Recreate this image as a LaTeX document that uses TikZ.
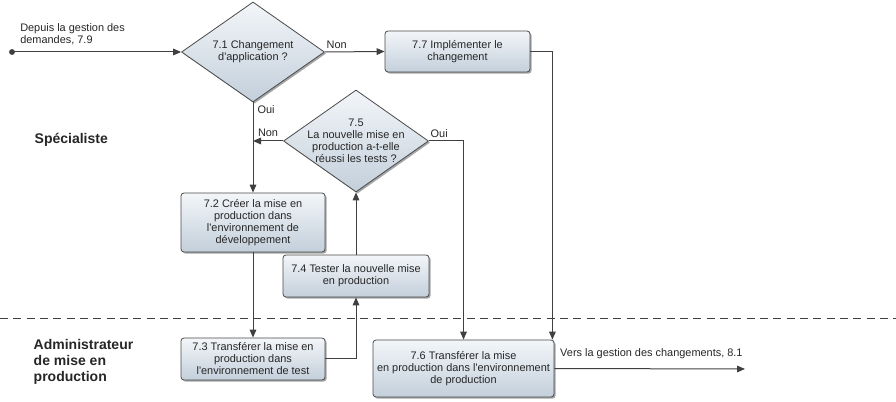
\documentclass[tikz,border=0pt]{standalone}
\usepackage{fontspec}
\setmainfont{Liberation Sans}
\usetikzlibrary{arrows.meta,shapes.geometric,shadows,calc}
\definecolor{linec}{HTML}{404040}
\definecolor{topc}{HTML}{F3F6F9}
\definecolor{botc}{HTML}{C3CFDB}
\definecolor{edgec}{HTML}{4A4A4A}
\definecolor{txtc}{HTML}{262626}
\newcommand{\apo}{\textquotesingle}
\begin{document}
\begin{tikzpicture}[x=0.75pt,y=-0.75pt,
  every node/.style={font=\fontsize{8.2}{9}\selectfont, text=txtc},
  shad/.style={drop shadow={shadow xshift=1.2pt, shadow yshift=-1.2pt, fill=black, opacity=0.35}},
  proc/.style={rectangle, rounded corners=2.25pt, draw=edgec, line width=0.6pt,
    top color=topc, bottom color=botc, align=center, inner sep=1pt, shad},
  dec/.style={diamond, draw=edgec, line width=0.6pt, top color=topc, bottom color=botc,
    inner sep=0pt, shad},
  conn/.style={draw=linec, line width=0.75pt, -{Triangle[length=6pt,width=5pt]}},
  lane/.style={font=\fontsize{10.5}{12}\selectfont\bfseries, align=left},
  ]
\useasboundingbox (0,0) rectangle (896,402);

% swimlane separator
\draw[linec, line width=0.75pt, dash pattern=on 6pt off 4pt] (0,319) -- (896,319);

% lane titles
\node[lane, anchor=west] (lane1) at (30,140) {Spécialiste};
\node[lane, anchor=north west] (lane2) at (29,335) {Administrateur\\de mise en\\production};

% decisions
\node[dec, minimum width=107.25pt, minimum height=75pt,
  label={[align=center]center:7.1 Changement\\d\apo application ?}] (n71) at (253,52) {};
\node[dec, minimum width=108.75pt, minimum height=76.5pt,
  label={[align=center]center:7.5\\La nouvelle mise en\\production a-t-elle\\réussi les tests ?}] (n75) at (356,141) {};

% processes
\node[proc, minimum width=108.75pt, minimum height=30.75pt] (n77) at (457.5,51.5) {7.7 Implémenter le\\changement};
\node[proc, minimum width=108pt, minimum height=44.25pt] (n72) at (253,222.5) {7.2 Créer la mise en\\production dans\\l\apo environnement de\\développement};
\node[proc, minimum width=108pt, minimum height=31.5pt] (n73) at (253,359) {7.3 Transférer la mise en\\production dans\\l\apo environnement de test};
\node[proc, minimum width=109.5pt, minimum height=31.5pt] (n74) at (356,276) {7.4 Tester la nouvelle mise\\en production};
\node[proc, minimum width=135.75pt, minimum height=42.75pt] (n76) at (463.5,368.5) {7.6 Transférer la mise\\en production dans l\apo environnement\\de production};

% start / end
\coordinate (start) at (12,52);
\coordinate (exit) at (745,369);
\node[anchor=north west, align=left, inner sep=0pt] (lblstart) at (20,23) {Depuis la gestion des\\demandes, 7.9};

% connectors
\draw[conn] (start) -- (n71.west);
\fill[linec] (start) circle (2.2pt);
\draw[conn] (n71.east) -- node[pos=0, anchor=south west, inner sep=1pt, yshift=1pt] {Non} (n77.west);
\draw[conn] (n77.east) -| ($(n76.north east)+(-2,0)$);
\draw[conn] (n71.south) -- node[pos=0, anchor=north west, inner sep=2pt, xshift=1pt] {Oui} (n72.north);
\draw[conn] (n75.west) -- node[midway, anchor=south, inner sep=2pt, yshift=1pt] {Non} (n75.west -| n72.north);
\draw[conn] (n75.east) -| node[pos=0, anchor=south west, inner sep=1pt, yshift=1pt] {Oui} (n76.north);
\draw[conn] (n72.south) -- (n73.north);
\draw[conn] (n73.east) -| (n74.south);
\draw[conn] (n74.north) -- (n75.south);
\draw[conn] (n76.east) -- node[pos=0, anchor=south west, inner sep=1pt, xshift=3pt, yshift=6pt] {Vers la gestion des changements, 8.1} (exit);
\end{tikzpicture}
\end{document}
